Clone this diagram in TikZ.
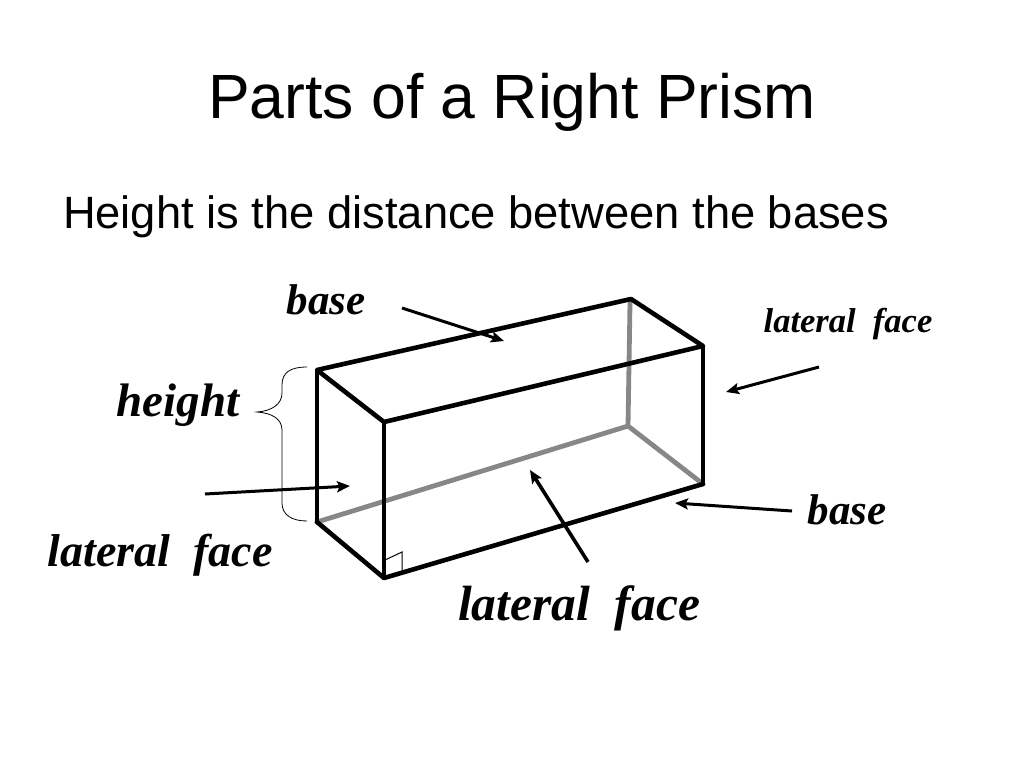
\documentclass[tikz,border=0pt]{standalone}
\usepackage{fontspec}
\setmainfont{Liberation Sans}
\newfontfamily\serifit[Ligatures=TeX]{Liberation Serif}
\usetikzlibrary{arrows.meta}
\tikzset{
 px/.style={x=1pt,y=-1pt},
 lab/.style={font=\serifit\bfseries\itshape\fontsize{#1}{#1}\selectfont,inner sep=0pt,anchor=center},
 heading/.style={inner sep=0pt,anchor=center},
 edge/.style={line width=4.6pt,black,line cap=round,line join=round},
 vedge/.style={line width=3.4pt,black,line cap=round},
 hidden/.style={line width=4.8pt,black!47,line cap=round,line join=round},
 pointer/.style={line width=3pt,-{Stealth[length=13pt,width=11pt,inset=2.5pt]}}
}
\begin{document}
\begin{tikzpicture}[px]
\useasboundingbox (0,0) rectangle (1024,768);
\node[heading,font=\fontsize{62.5}{64}\selectfont] (title) at (512,102) {Parts of a Right Prism};
\node[heading,font=\fontsize{45.3}{46}\selectfont] (sub) at (476,217) {Height is the distance between the bases};
\coordinate (A) at (317,370);
\coordinate (B) at (631,299);
\coordinate (C) at (703,346);
\coordinate (D) at (384,422);
\coordinate (E) at (317,522);
\coordinate (F) at (628,426);
\coordinate (G) at (703,484);
\coordinate (H) at (384,578);
\draw[hidden] (630,303) -- (F);
\draw[hidden] (E) -- (F) -- (G);
\draw[edge] (A) -- (B) -- (C) -- (D) -- cycle;
\draw[edge] (E) -- (H) -- (G);
\draw[vedge,line width=3.8pt] (A) -- (E);
\draw[vedge] (C) -- (G);
\draw[vedge] (D) -- (H);
\draw[line width=1pt] (385,560) -- (402,552) -- (402,572);
\draw[line width=0.8pt] (307,367) .. controls (291,367) and (282,372) .. (282,385) -- (282,393) .. controls (282,404) and (272,411) .. (257,412) .. controls (272,413) and (282,419) .. (282,430) -- (282,503) .. controls (282,515) and (292,521) .. (307,521);
\node[lab=43] (base1) at (326,300) {base};
\node[lab=43] (base2) at (847,510) {base};
\node[lab=47] (height) at (178,405) {height};
\node[lab=34.5] (lf1) at (848,324) {lateral\ \ face};
\node[lab=46] (lf2) at (160,555) {lateral\ \ face};
\node[lab=49.5] (lf3) at (579,608) {lateral\ \ face};
\coordinate (p1) at (402,308); \coordinate (q1) at (504,341);
\coordinate (p2) at (819,367); \coordinate (q2) at (726,392);
\coordinate (p3) at (205,494); \coordinate (q3) at (350,486);
\coordinate (p4) at (792,511); \coordinate (q4) at (675,503);
\coordinate (p5) at (588,562); \coordinate (q5) at (530,470);
\draw[pointer] (p1) -- (q1);
\draw[pointer] (p2) -- (q2);
\draw[pointer] (p3) -- (q3);
\draw[pointer] (p4) -- (q4);
\draw[pointer,line width=3.6pt] (p5) -- (q5);
\end{tikzpicture}
\end{document}
